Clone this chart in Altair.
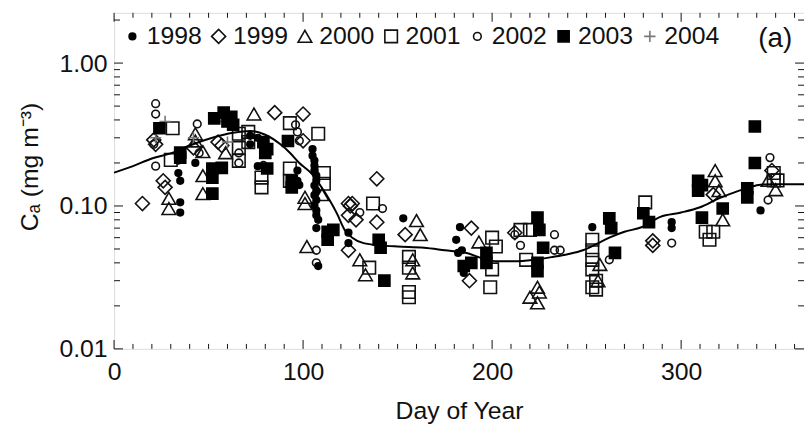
import altair as alt
import pandas as pd

years = ["1998", "1999", "2000", "2001", "2002", "2003", "2004"]

day_1998 = [34, 35, 35, 35, 34, 43, 72, 72, 76, 81, 76, 97, 97, 98, 105, 105, 106, 106, 106, 107,
            107, 106, 107, 106, 107, 106, 107, 107, 108, 107, 108, 124, 124, 153, 183, 181, 184, 185, 185, 182,
            253, 295, 295, 342]
ca_1998 = [0.17, 0.15, 0.106, 0.09, 0.208, 0.20, 0.31, 0.27, 0.30, 0.25, 0.19, 0.177, 0.15, 0.14, 0.25, 0.225, 0.208, 0.192, 0.177, 0.163,
           0.151, 0.139, 0.128, 0.119, 0.11, 0.101, 0.093, 0.086, 0.08, 0.07, 0.038, 0.065, 0.055, 0.082, 0.071, 0.058, 0.049, 0.039, 0.034, 0.047,
           0.071, 0.077, 0.07, 0.093]

day_1999 = [15, 21, 22, 26, 27, 42, 55, 57, 85, 100, 100, 124, 126, 124, 139, 139, 125, 128, 124, 154,
            189, 188, 212, 285, 285, 317, 348]
ca_1999 = [0.104, 0.29, 0.27, 0.15, 0.135, 0.255, 0.28, 0.265, 0.45, 0.44, 0.286, 0.104, 0.104, 0.086, 0.155, 0.077, 0.10, 0.08, 0.049, 0.063,
           0.07, 0.03, 0.065, 0.053, 0.057, 0.12, 0.177]

day_2000 = [29, 29, 43, 43, 47, 47, 47, 59, 74, 101, 101, 102, 110, 130, 133, 160, 162, 158, 158, 193,
            224, 220, 224, 257, 256, 318, 318, 320, 322, 346, 350, 225]
ca_2000 = [0.113, 0.096, 0.32, 0.285, 0.24, 0.163, 0.122, 0.236, 0.44, 0.115, 0.104, 0.052, 0.12, 0.042, 0.033, 0.079, 0.063, 0.042, 0.034, 0.056,
           0.027, 0.023, 0.021, 0.039, 0.03, 0.177, 0.15, 0.128, 0.08, 0.151, 0.13, 0.025]

day_2001 = [31, 30, 66, 66, 66, 71, 71, 78, 78, 93, 93, 93, 108, 111, 111, 137, 135, 156, 156, 156,
            156, 200, 202, 199, 200, 215, 220, 218, 253, 253, 253, 253, 253, 255, 255, 281, 313, 315, 317, 349,
            349, 351]
ca_2001 = [0.35, 0.21, 0.32, 0.255, 0.207, 0.33, 0.28, 0.158, 0.135, 0.38, 0.183, 0.15, 0.32, 0.17, 0.143, 0.104, 0.037, 0.044, 0.037, 0.025,
           0.023, 0.06, 0.052, 0.027, 0.036, 0.068, 0.068, 0.042, 0.058, 0.049, 0.042, 0.036, 0.027, 0.03, 0.026, 0.106, 0.066, 0.058, 0.066, 0.17,
           0.151, 0.151]

day_2002 = [22, 22, 22, 21, 44, 45, 66, 66, 96, 97, 98, 79, 107, 107, 142, 130, 212, 215, 233, 233,
            236, 262, 295, 347, 346]
ca_2002 = [0.52, 0.44, 0.19, 0.27, 0.375, 0.235, 0.235, 0.20, 0.37, 0.33, 0.286, 0.192, 0.049, 0.04, 0.096, 0.09, 0.063, 0.053, 0.063, 0.049,
           0.049, 0.042, 0.055, 0.218, 0.11]

day_2003 = [24, 35, 35, 53, 58, 60, 63, 62, 52, 57, 52, 52, 79, 80, 81, 81, 92, 94, 94, 113,
            116, 113, 140, 141, 143, 197, 197, 189, 185, 224, 225, 227, 224, 224, 262, 263, 265, 280, 283, 309,
            309, 311, 311, 322, 339, 339, 335, 335]
ca_2003 = [0.35, 0.236, 0.218, 0.41, 0.45, 0.39, 0.37, 0.42, 0.183, 0.185, 0.158, 0.122, 0.28, 0.235, 0.183, 0.25, 0.285, 0.15, 0.135, 0.066,
           0.068, 0.058, 0.058, 0.051, 0.03, 0.047, 0.04, 0.04, 0.038, 0.083, 0.068, 0.051, 0.04, 0.035, 0.082, 0.07, 0.047, 0.089, 0.077, 0.15,
           0.128, 0.14, 0.083, 0.096, 0.36, 0.20, 0.133, 0.115]

day_2004 = [27, 58, 22, 42, 60]
ca_2004 = [0.39, 0.39, 0.30, 0.30, 0.28]

curve_day = [0, 10, 20, 31, 40, 52, 63, 72, 80, 88, 93, 98, 104, 109, 114, 118, 122, 126, 132, 141,
             150, 164, 175, 186, 195, 203, 212, 222, 232, 240, 248, 255, 262, 270, 279, 289, 300, 310, 320, 330,
             336, 342, 350, 365]
curve_ca = [0.171, 0.19, 0.215, 0.236, 0.265, 0.30, 0.325, 0.335, 0.315, 0.27, 0.236, 0.20, 0.171, 0.14, 0.11, 0.088, 0.068, 0.06, 0.055, 0.053,
            0.052, 0.051, 0.049, 0.047, 0.043, 0.041, 0.041, 0.042, 0.044, 0.046, 0.049, 0.054, 0.06, 0.066, 0.071, 0.084, 0.09, 0.098, 0.113, 0.127,
            0.135, 0.141, 0.142, 0.142]

y_major = [0.01, 0.1, 1.0]
y_minor = [0.02, 0.03, 0.04, 0.05, 0.06, 0.07, 0.08, 0.09,
           0.2, 0.3, 0.4, 0.5, 0.6, 0.7, 0.8, 0.9, 2.0]
x_major = [0, 100, 200, 300]
x_minor = [10, 20, 30, 40, 50, 60, 70, 80, 90, 110, 120, 130, 140, 150, 160, 170, 180, 190,
           210, 220, 230, 240, 250, 260, 270, 280, 290, 310, 320, 330, 340, 350, 360]

shapes = ["circle", "diamond", "triangle-up", "square", "circle", "square", "M-1,0L1,0M0,-1L0,1"]
fills = ["#000000", "transparent", "transparent", "transparent", "transparent", "#000000", "transparent"]
strokes = ["#000000", "#111111", "#111111", "#111111", "#111111", "#000000", "#777777"]
sizes = [45, 200, 190, 160, 60, 125, 130]

# ---- tables ----
series = {
    "1999": (day_1999, ca_1999), "2000": (day_2000, ca_2000), "2001": (day_2001, ca_2001),
    "2002": (day_2002, ca_2002), "2004": (day_2004, ca_2004),
    "1998": (day_1998, ca_1998), "2003": (day_2003, ca_2003),
}
rows = []
for yr, (ds, cs) in series.items():
    for d, c in zip(ds, cs):
        rows.append({"day": d, "ca": c, "year": yr})
df = pd.DataFrame(rows)
curve_df = pd.DataFrame({"day": curve_day, "ca": curve_ca})
ymaj_df = pd.DataFrame({"ca": y_major})
ymin_df = pd.DataFrame({"ca": y_minor})
xmaj_df = pd.DataFrame({"day": x_major})
xmin_df = pd.DataFrame({"day": x_minor})

W, H = 696, 339
FONT = "Liberation Sans"
INK = "#111111"

x_scale = alt.Scale(domain=[0, 365], nice=False, zero=False)
y_scale = alt.Scale(type="log", domain=[0.01, 2.247], nice=False)

x_axis = alt.Axis(values=x_major, title="Day of Year", ticks=False, domain=False, grid=False,
                  labelFontSize=25, labelFont=FONT, labelColor=INK, labelPadding=11, labelFlush=False,
                  titleFontSize=25, titleFont=FONT, titleColor=INK, titleFontWeight="normal",
                  titleBaseline="middle", titleY=62)
y_axis = alt.Axis(values=y_major, format=".2f", title="Cₐ (mg m⁻³)", ticks=False, domain=False,
                  grid=False, labelFontSize=25, labelFont=FONT, labelColor=INK, labelPadding=7,
                  labelFlush=False,
                  titleFontSize=25, titleFont=FONT, titleColor=INK, titleFontWeight="normal",
                  titleBaseline="middle", titleX=-85, titleY=155)

X = alt.X("day:Q", scale=x_scale, axis=x_axis, title="Day of Year")
Y = alt.Y("ca:Q", scale=y_scale, axis=y_axis, title="Cₐ (mg m⁻³)")

leg = alt.Legend(title=None, orient="none", legendX=6, legendY=11, direction="horizontal",
                 columns=7, columnPadding=4, labelFontSize=25, labelFont=FONT, labelColor=INK,
                 labelOffset=2, symbolStrokeWidth=1.6, padding=0, rowPadding=0)

points = alt.Chart(df).mark_point(opacity=1, strokeWidth=1.6, filled=False).encode(
    x=X, y=Y,
    shape=alt.Shape("year:N", scale=alt.Scale(domain=years, range=shapes), legend=leg),
    fill=alt.Fill("year:N", scale=alt.Scale(domain=years, range=fills), legend=leg),
    stroke=alt.Stroke("year:N", scale=alt.Scale(domain=years, range=strokes), legend=leg),
    size=alt.Size("year:N", scale=alt.Scale(type="ordinal", domain=years, range=sizes), legend=leg),
)

curve = alt.Chart(curve_df).mark_line(color="#000000", strokeWidth=2, interpolate="monotone").encode(
    x=X, y=Y)

def yticks(data, a, b):
    return alt.Chart(data).mark_rule(color=INK, strokeWidth=1).encode(
        y=Y, x=alt.value(a), x2=alt.value(b))

def xticks(data, a, b):
    return alt.Chart(data).mark_rule(color=INK, strokeWidth=1).encode(
        x=X, y=alt.value(a), y2=alt.value(b))

ticks = [
    yticks(ymaj_df, 0, 9), yticks(ymin_df, 0, 6),
    yticks(ymaj_df, W - 9, W), yticks(ymin_df, W - 6, W),
    xticks(xmaj_df, H - 9, H), xticks(xmin_df, H - 5, H),
    xticks(xmaj_df, 0, 9), xticks(xmin_df, 0, 5),
]

label = alt.Chart(pd.DataFrame({"t": ["(a)"]})).mark_text(
    fontSize=28, font=FONT, color=INK, align="center", baseline="middle").encode(
    x=alt.value(667), y=alt.value(26), text="t:N")

chart = alt.layer(points, curve, *ticks, label).properties(
    width=W, height=H,
    autosize=alt.AutoSizeParams(type="none"),
    padding={"left": 107, "top": 3, "right": 0, "bottom": 85},
).configure_view(stroke=INK, strokeWidth=1.2).configure(background="white")

chart.save("out.html", embed_options={"renderer": "svg", "actions": False})
